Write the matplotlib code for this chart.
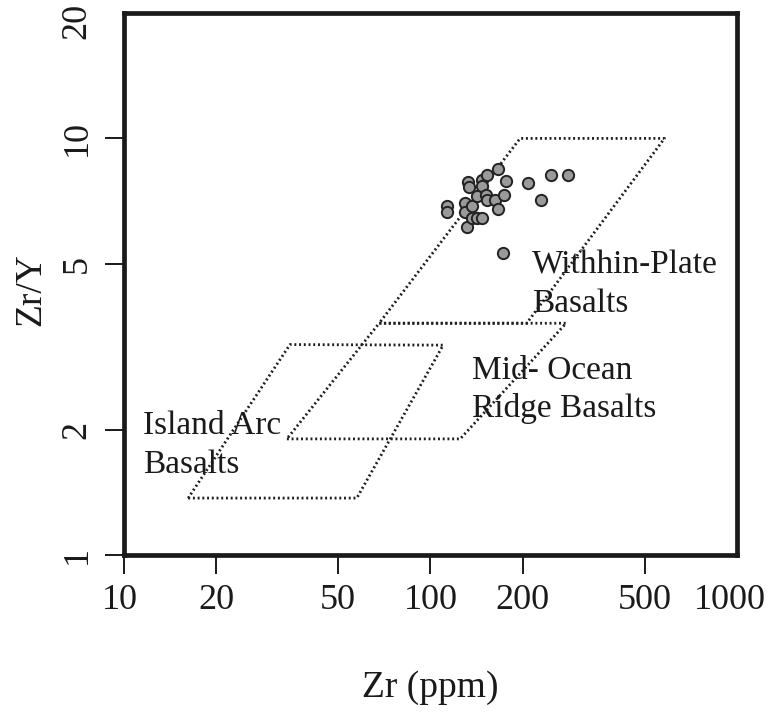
import matplotlib
matplotlib.use("Agg")
import matplotlib.pyplot as plt
from matplotlib.transforms import ScaledTranslation

# ---------------------- DATA ----------------------
# sample analyses: Zr (ppm) and Zr/Y
zr = [113, 113, 130, 130, 133, 134, 137, 132, 137, 142, 147, 142, 147, 147,
      153, 152, 153, 162, 166, 166, 174, 177, 208, 229, 247, 282, 172]
zr_y = [6.88, 6.65, 7.00, 6.65, 7.85, 7.64, 6.90, 6.12, 6.44, 6.44, 6.44,
        7.29, 7.96, 7.68, 8.17, 7.33, 7.10, 7.10, 8.44, 6.77, 7.33, 7.92,
        7.82, 7.10, 8.17, 8.17, 5.32]

# discrimination fields (Zr, Zr/Y vertices)
wpb_zr = [68, 206, 580, 196]
wpb_zry = [3.6, 3.6, 10.0, 10.0]
morb_zr = [34, 125, 277, 68]
morb_zry = [1.9, 1.9, 3.6, 3.6]
iab_zr = [16.2, 57.5, 110, 34.8]
iab_zry = [1.37, 1.37, 3.19, 3.2]

x_ticks = [10, 20, 50, 100, 200, 500, 1000]
y_ticks = [1, 2, 5, 10, 20]

# ---------------------- PLOT ----------------------
plt.rcParams['font.family'] = ['Liberation Serif', 'DejaVu Serif']

fig = plt.figure(figsize=(7.71, 7.17), dpi=100)
ax = fig.add_axes([0.1608, 0.2259, 0.7951, 0.7560])

ax.set_xscale('log')
ax.set_yscale('log')
ax.set_xlim(10, 1000)
ax.set_ylim(1, 20)

for fx, fy in [(wpb_zr, wpb_zry), (morb_zr, morb_zry), (iab_zr, iab_zry)]:
    ax.plot(fx + fx[:1], fy + fy[:1], linestyle=(0, (0.7, 1.0)), color='#1e1e1e',
            lw=2.0, dash_capstyle='butt')

ax.scatter(zr, zr_y, s=66, facecolor='#9a9a9a', edgecolor='#222222',
           linewidths=1.4, zorder=3)

txt = dict(fontsize=24, color='#1a1a1a', va='baseline', ha='left')
ax.text(214, 4.73, "Withhin-Plate", **txt)
ax.text(214, 3.84, "Basalts", **txt)
ax.text(136.6, 2.65, "Mid- Ocean", **txt)
ax.text(136.6, 2.15, "Ridge Basalts", **txt)
ax.text(11.5, 1.95, "Island Arc", **txt)
ax.text(11.5, 1.57, "Basalts", **txt)

ax.set_xticks(x_ticks)
ax.set_xticklabels([str(t) for t in x_ticks])
ax.set_yticks(y_ticks)
ax.set_yticklabels([str(t) for t in y_ticks], rotation=90, va='center')
ax.minorticks_off()
ax.tick_params(axis='both', direction='out', length=14, width=1.4,
               labelsize=26, colors='#1a1a1a')
ax.tick_params(axis='x', pad=7)
ax.tick_params(axis='y', pad=8)

# corner ticks are hidden under the frame; pull corner labels inward
ax.xaxis.get_major_ticks()[-1].tick1line.set_visible(False)
ax.yaxis.get_major_ticks()[-1].tick1line.set_visible(False)
lab_1000 = ax.get_xticklabels()[-1]
lab_1000.set_transform(lab_1000.get_transform() + ScaledTranslation(-5 / 72, 0, fig.dpi_scale_trans))
lab_10 = ax.get_xticklabels()[0]
lab_10.set_transform(lab_10.get_transform() + ScaledTranslation(-3 / 72, 0, fig.dpi_scale_trans))
lab_20 = ax.get_yticklabels()[-1]
lab_20.set_transform(lab_20.get_transform() + ScaledTranslation(0, -6 / 72, fig.dpi_scale_trans))

for sp in ax.spines.values():
    sp.set_linewidth(3.4)
    sp.set_color('#1a1a1a')

ax.set_xlabel("Zr (ppm)", fontsize=27, color='#1a1a1a')
ax.set_ylabel("Zr/Y", fontsize=27, color='#1a1a1a')
ax.xaxis.set_label_coords(0.5, -0.212)
ax.yaxis.set_label_coords(-0.124, 0.49)

fig.savefig("out.png", dpi=100)
